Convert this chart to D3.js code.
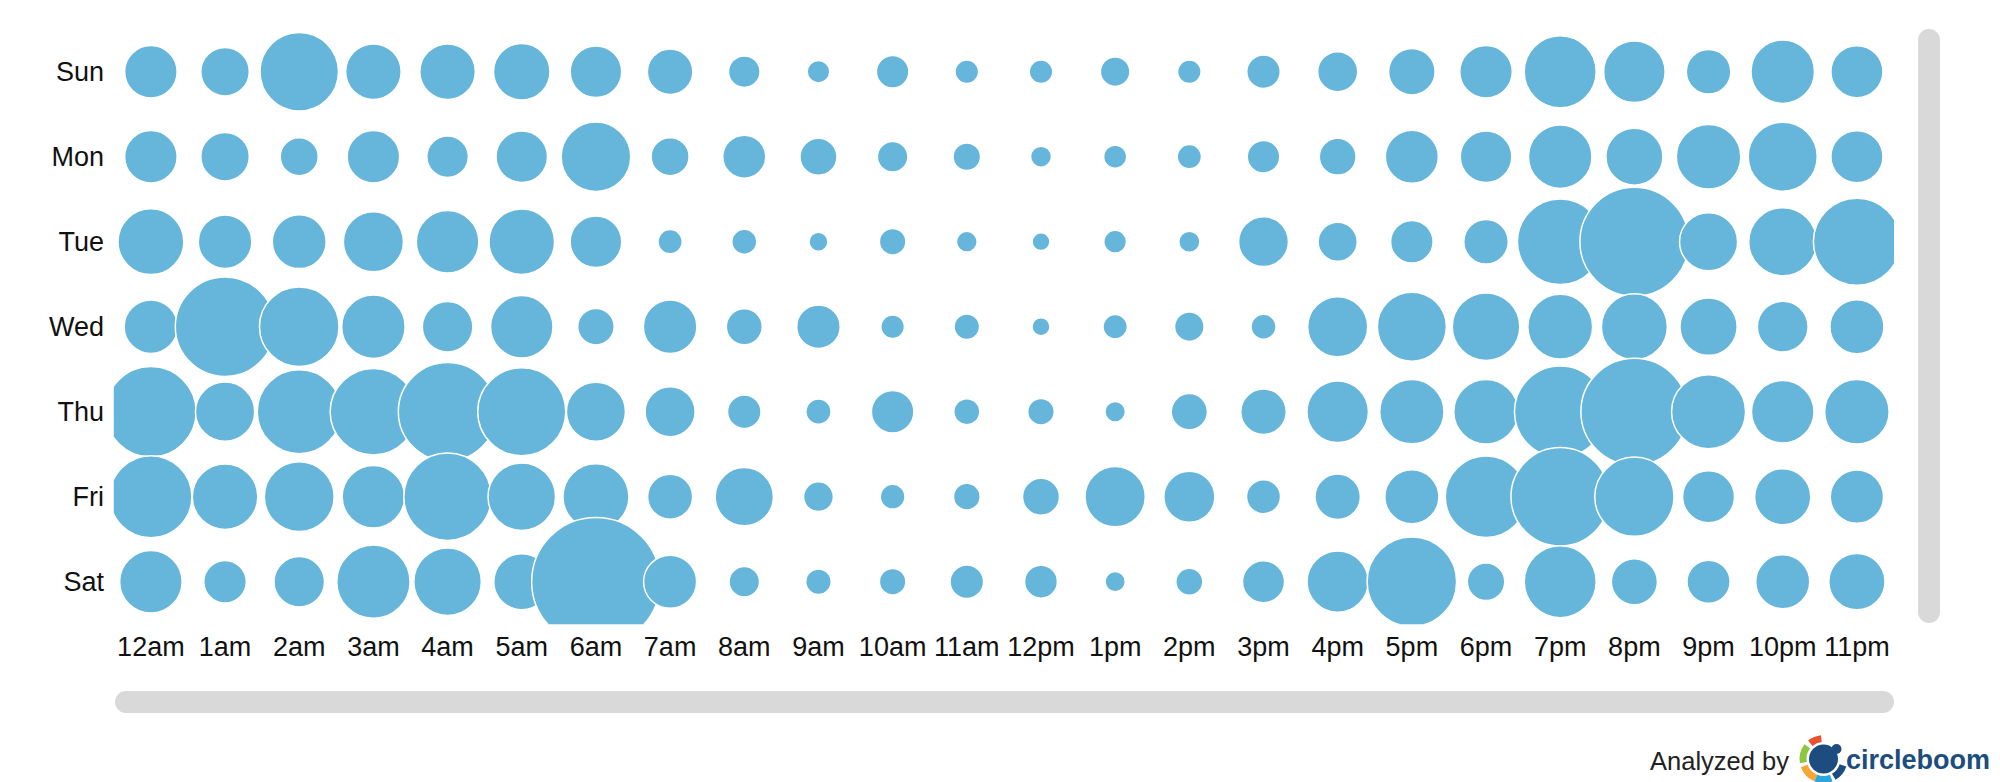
<!DOCTYPE html>
<html>
<head>
<meta charset="utf-8">
<script src="https://cdn.jsdelivr.net/npm/d3@7"></script>
<style>
  html, body { margin: 0; padding: 0; background: #ffffff; }
  svg { display: block; }
  text { font-family: "Liberation Sans", Arial, Helvetica, sans-serif; }
</style>
</head>
<body>
<svg id="chart" width="2000" height="782"></svg>
<script>
// ---------- data ----------
const days = ["Sun", "Mon", "Tue", "Wed", "Thu", "Fri", "Sat"];
const hours = ["12am","1am","2am","3am","4am","5am","6am","7am","8am","9am","10am","11am",
               "12pm","1pm","2pm","3pm","4pm","5pm","6pm","7pm","8pm","9pm","10pm","11pm"];

const sunActivity = [51,47,77,54,54,55,50,44,30,21,31,22,22,28,22,32,38.5,45,51,70.5,60,43,62,50.5];
const monActivity = [51,47,36.5,51,40,50,68,36.5,41.5,35.5,29,26,19.5,21.5,22.7,31,35.3,51.5,50,62,55.5,63,67.5,50.5];
const tueActivity = [64.3,52,52.3,58.5,61,64,50,22.7,23.5,17.5,25,19.3,16.3,21.2,19.6,48.3,37.6,41,43,84,107.5,56.5,66.5,85.5];
const wedActivity = [52,98,78,62,49,61,35,52,34.5,42,22,24,16.5,22.8,28,23.5,58.5,67.5,66,63.3,64.5,55.7,49.2,52.5];
const thuActivity = [89,57.7,82.5,85,97,86.5,57.5,48.5,32,23.7,41,24.5,25,19,34.7,44,60,62.8,63,90,105.5,72.5,61,63];
const friActivity = [80.5,64,68.3,61,86,66,64.5,43.5,56.7,28.3,23.2,25.2,35.5,58.8,49.5,32.5,43.9,52.5,80,97,77.7,50.4,54.6,51.7];
const satActivity = [61,41,49,71.8,66,54.5,127,51.5,29,24,25,32,31.4,18.8,25.5,40.5,59.7,88,36,70.4,44.6,41.6,52.5,54.7];

const activityByDay = [sunActivity, monActivity, tueActivity, wedActivity, thuActivity, friActivity, satActivity];

const footerText = "Analyzed by";
const brandText = "circleboom";

// ---------- layout ----------
const svg = d3.select("#chart");
const plot = { left: 113.8, right: 1894, top: 29.2, bottom: 624.2 };

const x = d3.scaleBand().domain(hours).range([plot.left, plot.right]).padding(0);
const y = d3.scaleBand().domain(days).range([plot.top, plot.bottom]).padding(0);
const maxVal = d3.max(activityByDay.flat());
const r = d3.scaleLinear().domain([0, maxVal]).range([0.75, maxVal / 2 + 0.75]);

const cells = [];
days.forEach((d, i) => hours.forEach((h, j) => cells.push({ day: d, hour: h, value: activityByDay[i][j] })));

svg.append("defs").append("clipPath").attr("id", "plotClip")
  .append("rect")
  .attr("x", plot.left).attr("y", plot.top)
  .attr("width", plot.right - plot.left).attr("height", plot.bottom - plot.top);

svg.append("g").attr("clip-path", "url(#plotClip)")
  .selectAll("circle").data(cells).join("circle")
  .attr("cx", d => x(d.hour) + x.bandwidth() / 2)
  .attr("cy", d => y(d.day) + y.bandwidth() / 2)
  .attr("r", d => r(d.value))
  .attr("fill", "#66b5db")
  .attr("stroke", "#ffffff")
  .attr("stroke-width", 1.5);

// y axis labels
const yAxis = d3.axisLeft(y).tickSize(0).tickPadding(0);
const gy = svg.append("g").attr("transform", "translate(104,0)").call(yAxis);
gy.select(".domain").remove();
gy.selectAll("text").attr("font-size", 27).attr("fill", "#111").attr("dy", "0.36em")
  .attr("font-family", "'Liberation Sans', Arial, sans-serif");

// x axis labels
const xAxis = d3.axisBottom(x).tickSize(0).tickPadding(0);
const gx = svg.append("g").attr("transform", "translate(0,637)").call(xAxis);
gx.select(".domain").remove();
gx.selectAll("text").attr("font-size", 27).attr("fill", "#111").attr("dy", "0.72em")
  .attr("font-family", "'Liberation Sans', Arial, sans-serif");

// scrollbars
svg.append("rect").attr("x", 115).attr("y", 691).attr("width", 1779).attr("height", 22)
  .attr("rx", 11).attr("fill", "#d9d9d9");
svg.append("rect").attr("x", 1918).attr("y", 29).attr("width", 22).attr("height", 594)
  .attr("rx", 11).attr("fill", "#d9d9d9");

// footer
svg.append("text").attr("x", 1789).attr("y", 770).attr("text-anchor", "end")
  .attr("font-size", 25.5).attr("fill", "#222").text(footerText);

const logo = svg.append("g").attr("transform", "translate(1823.5,759)");
const ring = d3.arc().innerRadius(17).outerRadius(24);
const segs = [
  { a0: -40, a1: -6, c: "#e8552d" },
  { a0: -100, a1: -52, c: "#8dc63f" },
  { a0: -158, a1: -110, c: "#f9a533" },
  { a0: 158, a1: 202, c: "#29a8e0" },
  { a0: 108, a1: 150, c: "#1c4d7e" }
];
logo.selectAll("path.seg").data(segs).join("path").attr("class", "seg")
  .attr("d", d => ring({ startAngle: d.a0 * Math.PI / 180, endAngle: d.a1 * Math.PI / 180 }))
  .attr("fill", d => d.c);
logo.append("circle").attr("r", 14.5).attr("fill", "#1c4d7e");
logo.append("circle").attr("cx", 13).attr("cy", -10).attr("r", 5).attr("fill", "#1c4d7e");

svg.append("text").attr("x", 1846).attr("y", 769).attr("font-size", 27).attr("font-weight", "bold")
  .attr("fill", "#1c4d7e").text(brandText);
</script>
</body>
</html>
